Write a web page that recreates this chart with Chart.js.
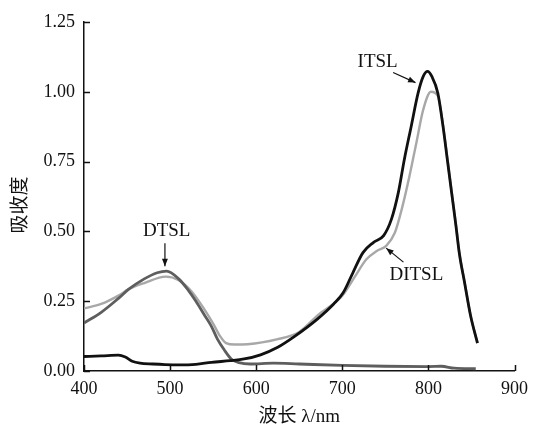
<!DOCTYPE html>
<html>
<head>
<meta charset="utf-8">
<script src="https://cdn.jsdelivr.net/npm/chart.js@4"></script>
<style>
  html, body { margin:0; padding:0; background:#fff; }
  #wrap { width:535px; height:428px; }
</style>
</head>
<body>
<div id="wrap"><canvas id="chart"></canvas></div>
<script>
// ----- Data -----
const itslWl  = [400,420,440,448,456,465,480,494,510,530,548,570,586,605,625,645,671,690,701,712,724,736,748,757,765,772,780,788,794,799,804,811,817,822,827,832,836,842,849,857];
const itslAbs = [0.052,0.054,0.057,0.050,0.035,0.028,0.025,0.023,0.022,0.024,0.031,0.037,0.043,0.058,0.085,0.125,0.186,0.240,0.280,0.350,0.424,0.460,0.485,0.543,0.638,0.757,0.876,0.995,1.055,1.073,1.055,0.995,0.876,0.757,0.638,0.520,0.420,0.317,0.198,0.100];

const ditslWl  = [400,420,440,452,470,495,510,525,540,550,558,565,575,590,625,650,671,700,715,728,740,751,761,769,778,786,794,803,811,817,822,827,832,836,842,849,857];
const ditslAbs = [0.224,0.240,0.270,0.293,0.315,0.338,0.325,0.285,0.220,0.170,0.125,0.100,0.095,0.096,0.114,0.140,0.198,0.270,0.340,0.400,0.430,0.448,0.495,0.579,0.698,0.817,0.936,1.000,0.985,0.880,0.762,0.642,0.523,0.422,0.318,0.199,0.100];

const dtslWl  = [400,420,440,452,470,485,496,510,521,530,540,548,555,563,571,580,593,620,650,700,750,800,815,830,855];
const dtslAbs = [0.172,0.210,0.260,0.293,0.330,0.352,0.358,0.330,0.290,0.250,0.200,0.160,0.114,0.075,0.043,0.030,0.025,0.028,0.025,0.020,0.017,0.016,0.017,0.010,0.008];

const xTicks = [400,500,600,700,800,900];
const yTicks = [0,0.25,0.5,0.75,1.0,1.25];
const xTitle = '波长 λ/nm';
const yTitle = '吸收度';

const toPts = (xs, ys) => xs.map((x,i)=>({x, y:ys[i]}));

// labels with arrows, placed in data coordinates
const notes = [
  {text:'ITSL',  tx:741, ty:1.107, ax1:759, ay1:1.069, ax2:785, ay2:1.033},
  {text:'DITSL', tx:786, ty:0.343, ax1:771, ay1:0.390, ax2:751, ay2:0.440},
  {text:'DTSL',  tx:496, ty:0.500, ax1:494, ay1:0.458, ax2:494, ay2:0.375}
];

const serif = "'Liberation Serif','Noto Sans CJK SC',serif";

// inward tick marks, axis titles, annotations
const decor = {
  id:'decor',
  afterDraw(chart){
    const {ctx, chartArea:a, scales:{x, y}} = chart;
    ctx.save();
    ctx.strokeStyle = '#111';
    ctx.lineWidth = 1.5;
    ctx.beginPath();
    xTicks.forEach(v=>{ const px = Math.round(x.getPixelForValue(v))+0.5; ctx.moveTo(px, a.bottom); ctx.lineTo(px, a.bottom-6); });
    yTicks.forEach(v=>{ const py = Math.round(y.getPixelForValue(v))+0.5; ctx.moveTo(a.left, py); ctx.lineTo(a.left+6, py); });
    ctx.stroke();

    ctx.fillStyle = '#111';
    ctx.textAlign = 'center';
    ctx.textBaseline = 'middle';

    // axis titles
    ctx.font = "19px " + serif;
    ctx.fillText(xTitle, (a.left+a.right)/2, 417);
    ctx.save();
    ctx.translate(21, 205);
    ctx.rotate(-Math.PI/2);
    ctx.fillText(yTitle, 0, 0);
    ctx.restore();

    ctx.font = "19px " + serif;
    notes.forEach(n=>{
      ctx.fillText(n.text, x.getPixelForValue(n.tx), y.getPixelForValue(n.ty));
      const x1 = x.getPixelForValue(n.ax1), y1 = y.getPixelForValue(n.ay1);
      const x2 = x.getPixelForValue(n.ax2), y2 = y.getPixelForValue(n.ay2);
      ctx.lineWidth = 1.2;
      ctx.beginPath(); ctx.moveTo(x1,y1); ctx.lineTo(x2,y2); ctx.stroke();
      const ang = Math.atan2(y2-y1, x2-x1), L = 8, w = 0.38;
      ctx.beginPath();
      ctx.moveTo(x2,y2);
      ctx.lineTo(x2 - L*Math.cos(ang-w), y2 - L*Math.sin(ang-w));
      ctx.lineTo(x2 - L*Math.cos(ang+w), y2 - L*Math.sin(ang+w));
      ctx.closePath(); ctx.fill();
    });
    ctx.restore();
  }
};

const line = (label, data, color, width) => ({
  label, data, borderColor:color, borderWidth:width,
  pointRadius:0, cubicInterpolationMode:'monotone', fill:false
});

// first dataset is painted on top in Chart.js
new Chart(document.getElementById('chart'), {
  type:'line',
  data:{
    datasets:[
      line('ITSL',  toPts(itslWl, itslAbs),  '#111111', 2.8),
      line('DTSL',  toPts(dtslWl, dtslAbs),  '#5e5e5e', 2.8),
      line('DITSL', toPts(ditslWl, ditslAbs), '#a8a8a8', 2.4)
    ]
  },
  options:{
    responsive:true,
    maintainAspectRatio:false,
    animation:false,
    layout:{padding:{top:22, right:16, left:0, bottom:0}},
    plugins:{legend:{display:false}, tooltip:{enabled:false}},
    scales:{
      x:{
        type:'linear', min:400, max:900,
        afterBuildTicks: s => { s.ticks = xTicks.map(v=>({value:v})); },
        afterFit: s => { s.height = 57; },
        border:{display:true, color:'#111', width:1.5},
        grid:{display:false, drawTicks:false},
        ticks:{color:'#111', padding:7, font:{family:serif, size:18}}
      },
      y:{
        min:0, max:1.25,
        afterBuildTicks: s => { s.ticks = yTicks.map(v=>({value:v})); },
        afterFit: s => { s.width = 84; },
        border:{display:true, color:'#111', width:1.5},
        grid:{display:false, drawTicks:false},
        ticks:{color:'#111', padding:9, font:{family:serif, size:18}, callback:v=>v.toFixed(2)}
      }
    }
  },
  plugins:[decor]
});
</script>
</body>
</html>
